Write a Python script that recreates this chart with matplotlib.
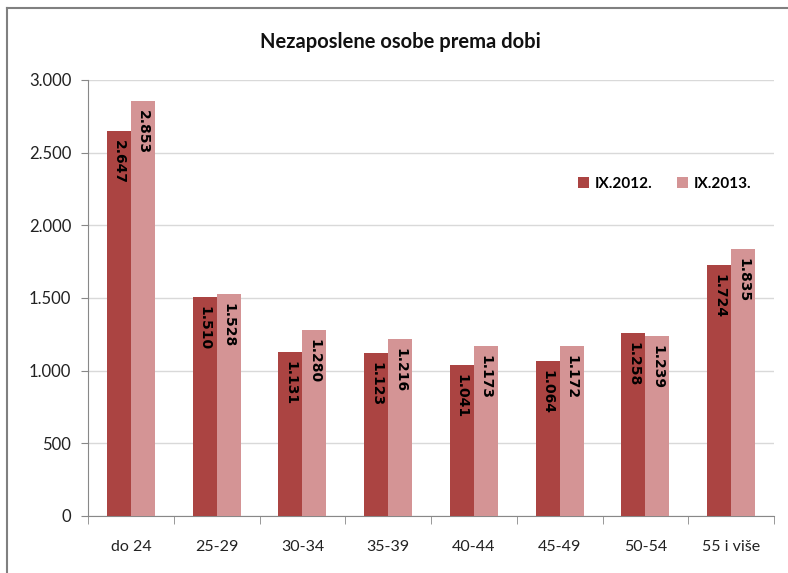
import matplotlib
matplotlib.use("Agg")
import matplotlib.pyplot as plt
from matplotlib.lines import Line2D
from matplotlib.ticker import FuncFormatter, FixedLocator
import numpy as np

categories = ["do 24", "25-29", "30-34", "35-39", "40-44", "45-49", "50-54", "55 i više"]
series_names = ["IX.2012.", "IX.2013."]
values_2012 = [2647, 1510, 1131, 1123, 1041, 1064, 1258, 1724]
values_2013 = [2853, 1528, 1280, 1216, 1173, 1172, 1239, 1835]
yticks = [0, 500, 1000, 1500, 2000, 2500, 3000]

colors = ["#AB4442", "#D49495"]
plt.rcParams['font.family'] = ['Lato', 'DejaVu Sans']

fig = plt.figure(figsize=(7.88, 5.73), dpi=100)
ax = fig.add_axes([0.1117, 0.0995, 0.8706, 0.7609])

x = np.arange(len(categories))
w = 0.28
series = [values_2012, values_2013]
for i, (vals, name, c) in enumerate(zip(series, series_names, colors)):
    pos = x + (i - 0.5) * w
    ax.bar(pos, vals, width=w, color=c, label=name, zorder=3)
    for p, v in zip(pos, vals):
        lbl = f"{v:,}".replace(",", ".")
        ax.annotate(lbl, (p, v), xytext=(0, -6.5), textcoords="offset points",
                    rotation=270, ha="center", va="top", fontsize=10,
                    fontweight="bold", color="black", zorder=4,
                    family=["DejaVu Sans"])

ax.set_xlim(-0.5, len(categories) - 0.5)
ax.set_ylim(0, 3000)
ax.set_yticks(yticks)
ax.yaxis.set_major_formatter(FuncFormatter(lambda v, _: f"{int(v):,}".replace(",", ".")))
ax.grid(axis="y", color="#D9D9D9", linewidth=1, zorder=0)

ax.set_xticks(x)
ax.set_xticklabels(categories)
ax.xaxis.set_minor_locator(FixedLocator(np.arange(-0.5, len(categories), 1.0)))
ax.tick_params(axis="x", which="major", length=0, pad=17, labelsize=11.5, colors="#222222")
ax.tick_params(axis="x", which="minor", length=6, color="#888888", direction="out")
ax.tick_params(axis="y", length=5, color="#888888", pad=7, labelsize=12, labelcolor="#222222")

for s in ["top", "right"]:
    ax.spines[s].set_visible(False)
ax.spines["left"].set_color("#888888")
ax.spines["bottom"].set_color("#888888")

leg = ax.legend(loc="center", bbox_to_anchor=(0.841, 0.761), ncol=2, frameon=False,
                handlelength=0.7, handleheight=0.7, handletextpad=0.4, columnspacing=1.6,
                prop={"weight": "bold", "size": 11})

fig.text(0.508, 0.927, "Nezaposlene osobe prema dobi", ha="center", va="center",
         fontsize=14.5, fontweight="bold", color="#111111")

# outer frame lines
fig.add_artist(Line2D([7/788, 1.0], [1 - 8/573, 1 - 8/573], transform=fig.transFigure,
                      color="#808080", linewidth=1.5))
fig.add_artist(Line2D([7/788, 7/788], [0, 1 - 8/573], transform=fig.transFigure,
                      color="#808080", linewidth=1.5))

fig.savefig("out.png", dpi=100)
